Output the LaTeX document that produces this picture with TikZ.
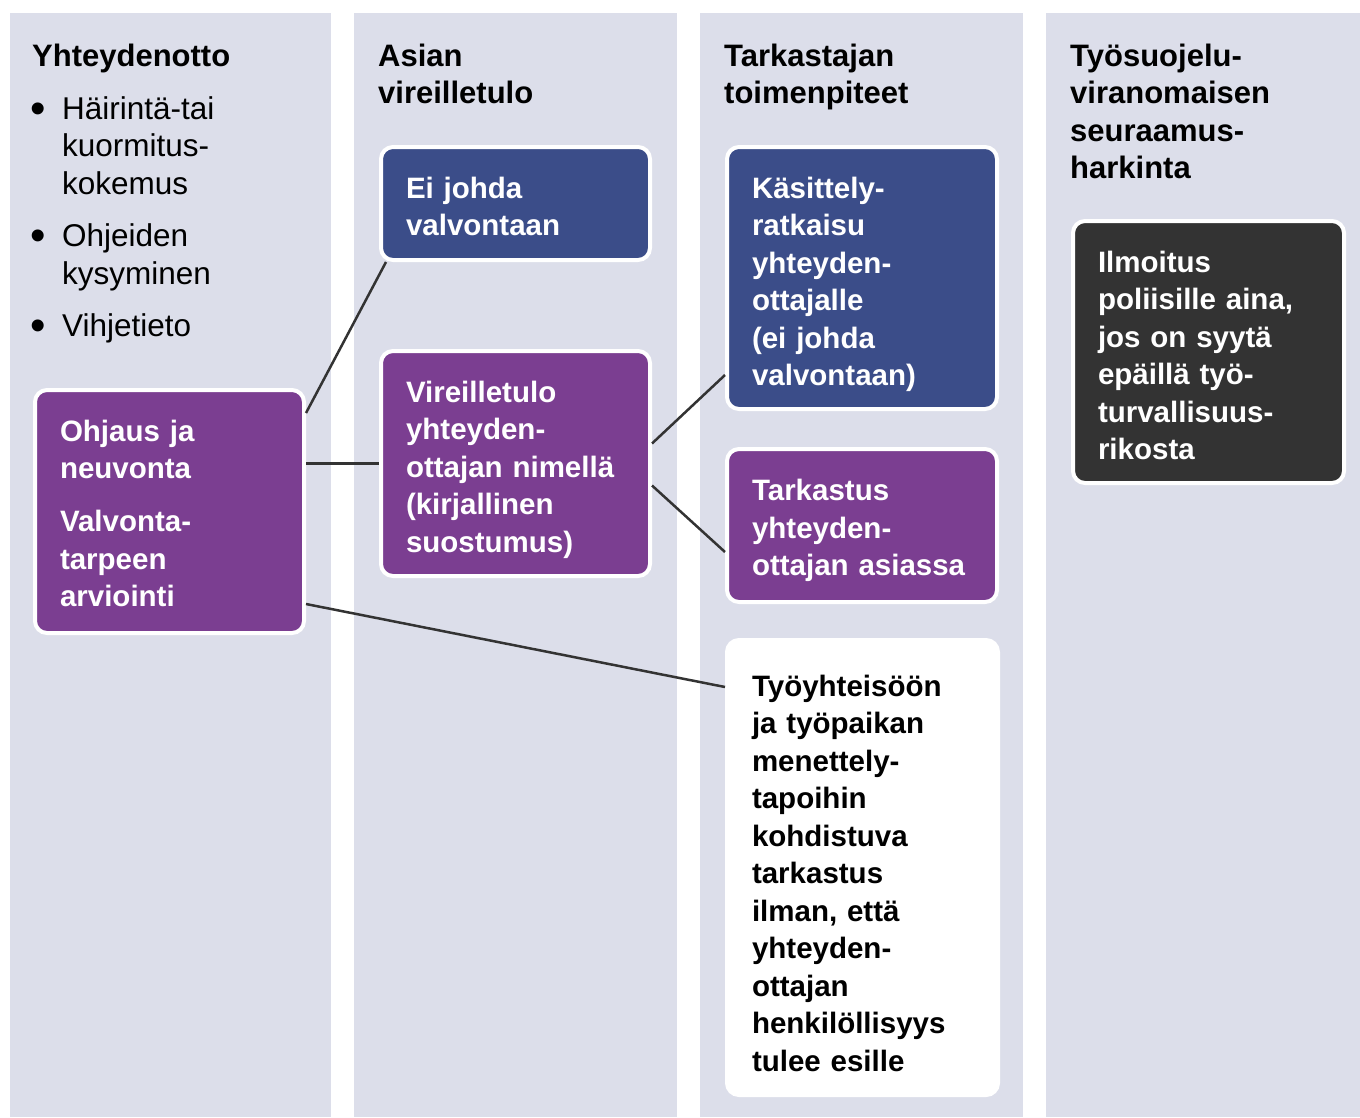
\documentclass[tikz,border=0pt]{standalone}
\usepackage{fontspec}
\setmainfont{Liberation Sans}
\usetikzlibrary{positioning, calc}

\definecolor{colbg}{HTML}{DCDEEA}
\definecolor{boxpurple}{HTML}{7B3E91}
\definecolor{boxblue}{HTML}{3B4D89}
\definecolor{boxdark}{HTML}{333333}
\definecolor{linegray}{HTML}{333333}

\newcommand{\listdot}{\llap{\raisebox{-4pt}{\fontsize{44}{0}\selectfont\textbullet}\hspace{16.5pt}}}

\begin{document}
\begin{tikzpicture}[x=1pt, y=-1pt]
	\tikzstyle{heading} = [anchor=north west, align=left, inner sep=0pt, font=\fontsize{31}{37.3}\selectfont\bfseries]
	\tikzstyle{listtext} = [anchor=north west, align=left, inner sep=0pt, font=\fontsize{31.5}{37.5}\selectfont]
	\tikzstyle{box} = [anchor=north west, draw=white, line width=4pt, rounded corners=12pt, align=left, inner xsep=25pt, inner ysep=0pt, font=\fontsize{29.5}{37.5}\selectfont\bfseries]
	\tikzstyle{purplebox} = [box, fill=boxpurple, text=white]
	\tikzstyle{bluebox} = [box, fill=boxblue, text=white]
	\tikzstyle{darkbox} = [box, fill=boxdark, text=white]
	\tikzstyle{whitebox} = [box, fill=white, text=black]
	\tikzstyle{link} = [draw=linegray, line width=2.5pt]

	\useasboundingbox (0,0) rectangle (1360,1117);

	% columns
	\foreach \xa/\xb in {10/331, 354/677, 700/1023, 1046/1360}
		\fill[colbg] (\xa,13) rectangle (\xb,1117);

	% column headings
	\node[heading] (head1) at (32,44) {Yhteydenotto};
	\node[heading] (head2) at (378,44) {Asian\\vireilletulo};
	\node[heading] (head3) at (724,44) {Tarkastajan\\toimenpiteet};
	\node[heading] (head4) at (1070,44) {Työsuojelu-\\viranomaisen\\seuraamus-\\harkinta};

	\node[listtext] (contacts) at (62,96) {%
		\listdot Häirintä-tai\\kuormitus-\\kokemus\\[15pt]
		\listdot Ohjeiden\\kysyminen\\[14.5pt]
		\listdot Vihjetieto};

	% boxes
	\node[purplebox, text height=25.5pt, minimum width=269pt, minimum height=243pt, text width=219pt] (ohjaus) at (33,388)
		{Ohjaus ja\\neuvonta\\[15.5pt]Valvonta-\\tarpeen\\arviointi};
	\node[bluebox, text height=27.5pt, minimum width=269pt, minimum height=113pt, text width=219pt] (eijohda) at (379,145)
		{Ei johda\\valvontaan};
	\node[purplebox, text height=33.5pt, minimum width=269pt, minimum height=225pt, text width=219pt] (vireille) at (379,349)
		{Vireilletulo\\yhteyden-\\ottajan nimellä\\(kirjallinen\\suostumus)};
	\node[bluebox, text height=34.5pt, minimum width=270pt, minimum height=262pt, text width=220pt] (kasittely) at (725,145)
		{Käsittely-\\ratkaisu\\yhteyden-\\ottajalle\\(ei johda\\valvontaan)};
	\node[purplebox, text height=31.5pt, minimum width=270pt, minimum height=153pt, text width=220pt] (tarkastus) at (725,447)
		{Tarkastus\\yhteyden-\\ottajan asiassa};
	\node[whitebox, text height=32.5pt, minimum width=271pt, minimum height=455pt, text width=221pt] (tyoyht) at (725,638)
		{Työyhteisöön\\ja työpaikan\\menettely-\\tapoihin\\kohdistuva\\tarkastus\\ilman, että\\yhteyden-\\ottajan\\henkilöllisyys\\tulee esille};
	\node[darkbox, text height=28.5pt, minimum width=271pt, minimum height=262pt, text width=221pt] (ilmoitus) at (1071,219)
		{Ilmoitus\\poliisille aina,\\jos on syytä\\epäillä työ-\\turvallisuus-\\rikosta};

	% connectors
	\draw[link] ([yshift=-25pt]ohjaus.north east) -- ([xshift=7pt]eijohda.south west);
	\draw[link] (vireille.west -| ohjaus.east) -- (vireille.west);
	\draw[link] ([yshift=31pt]ohjaus.south east) -- ([yshift=-49pt]tyoyht.north west);
	\draw[link] ([yshift=20pt]vireille.east) -- ([yshift=36pt]kasittely.south west);
	\draw[link] ([yshift=-22pt]vireille.east) -- ([yshift=52pt]tarkastus.south west);
\end{tikzpicture}
\end{document}
